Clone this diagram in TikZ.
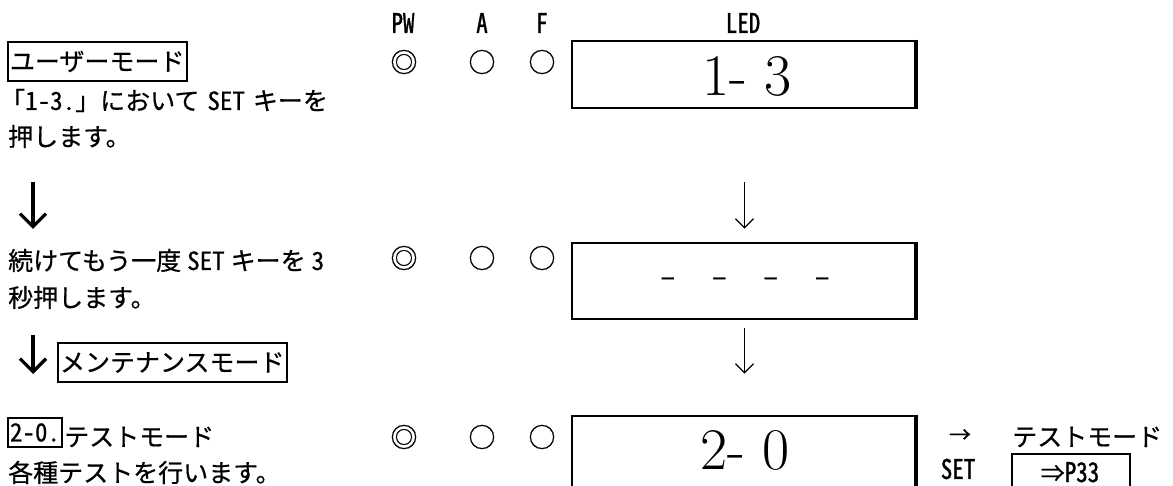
\documentclass[tikz,border=0pt]{standalone}
\usepackage{fontspec}
\usetikzlibrary{arrows.meta}
\newfontfamily\jp[FakeBold=0.6]{Noto Sans CJK JP}
\newfontfamily\hw[RawFeature=+hwid,FakeBold=0.6]{Noto Sans CJK JP}
\newfontfamily\lblf[RawFeature=+hwid,FakeStretch=0.85,FakeBold=1.2]{Noto Sans CJK JP}
\newcommand\lat[1]{{\hw #1}}
\tikzset{
  txt/.style={anchor=base west, inner sep=0, font=\jp\fontsize{25}{25}\selectfont},
  modebox/.style={draw, line width=2, inner xsep=2, inner ysep=0, minimum height=39, anchor=west, font=\jp\fontsize{25}{25}\selectfont},
  ledbox/.style={draw, line width=2.7, minimum width=345, inner sep=0},
  seg/.style={inner sep=0, font=\rmfamily\fontsize{59}{59}\selectfont},
  lbl/.style={inner sep=0, font=\lblf\fontsize{27}{27}\selectfont},
  lamp/.style={inner sep=0, font=\jp\fontsize{27}{27}\selectfont},
  thinarr/.style={line width=1.3, -{Straight Barb[length=9,width=18,line width=1.3]}},
  bigarr/.style={line width=3.2, -{Straight Barb[length=13,width=26,line width=3.2]}}
}
\begin{document}
\begin{tikzpicture}[x=1pt,y=-1pt]
\clip (0,0) rectangle (1173,486);
\fill[white] (0,0) rectangle (1173,486);
% column labels
\node[lbl] (lpw) at (403,23) {PW};
\node[lbl] (la) at (482,23) {A};
\node[lbl] (lf) at (542,23) {F};
\node[lbl] (lled) at (743,23) {LED};
% left texts
\node[modebox] (um) at (7,61.5) {ユーザーモード};
\node[txt] (t1) at (0,110) {「\lat{1-3.}」において\hspace{8pt}\lat{SET}\hspace{8pt}キーを};
\node[txt] (t2) at (8,146) {押します。};
\coordinate (a1s) at (33,182);
\coordinate (a1e) at (33,229);
\draw[bigarr] (a1s) -- (a1e);
\node[txt] (t3) at (8,270) {続けてもう一度\hspace{6pt}\lat{SET}\hspace{6pt}キーを\hspace{6pt}\lat{3}};
\node[txt] (t4) at (8,307) {秒押します。};
\coordinate (a2s) at (33,335);
\coordinate (a2e) at (33,374);
\draw[bigarr] (a2s) -- (a2e);
\node[modebox] (mm) at (57,362.5) {メンテナンスモード};
\node[draw, line width=2, inner xsep=2, inner ysep=0, minimum height=29, anchor=west, font=\hw\fontsize{25}{25}\selectfont] (b20) at (7,432.5) {2-0.};
\node[txt] (t5) at (64,446) {テストモード};
\node[txt] (t6) at (8,482) {各種テストを行います。};
% lamps
\node[lamp] (pw1) at (404,62) {◎};
\node[lamp] (a1) at (482,62) {○};
\node[lamp] (f1) at (542,62) {○};
\node[lamp] (pw2) at (404,258) {◎};
\node[lamp] (a2) at (482,258) {○};
\node[lamp] (f2) at (542,258) {○};
\node[lamp] (pw3) at (404,437) {◎};
\node[lamp] (a3) at (482,437) {○};
\node[lamp] (f3) at (542,437) {○};
% LED boxes
\node[ledbox, minimum height=67] (led1) at (744.5,74.5) {};
\node[seg] (s1) at (747,76) {1- 3};
\node[ledbox, minimum height=76] (led2) at (744.5,281) {};
\node[inner sep=0, anchor=base, font=\jp\fontsize{27}{27}\selectfont] (s2) at (745,286) {–\hspace{37pt}–\hspace{37pt}–\hspace{37pt}–};
\node[ledbox, minimum height=76] (led3) at (744.5,454) {};
\node[seg] (s3) at (745,450) {2- 0};
\foreach \b in {led1,led2,led3}
  \draw[line width=4.5] ([xshift=-2.3]\b.north east) -- ([xshift=-2.3]\b.south east);
\draw[thinarr, shorten <=73, shorten >=13] (led1) -- (led2);
\draw[thinarr, shorten <=8, shorten >=41] (led2) -- (led3);
% right side
\node[inner sep=0, font=\jp\fontsize{22}{22}\selectfont] (rar) at (960,436) {→};
\node[lbl] (rset) at (958,469) {SET};
\node[txt] (rtm) at (1012,446) {テストモード};
\node[draw, line width=2, minimum width=118, minimum height=45, inner sep=0, anchor=north west] (p33box) at (1011,453) {};
\node[inner sep=0, anchor=base, font=\jp\fontsize{24}{24}\selectfont] (p33) at (1070,482) {⇒{\lblf\fontsize{27}{27}\selectfont P33}};
\end{tikzpicture}
\end{document}
